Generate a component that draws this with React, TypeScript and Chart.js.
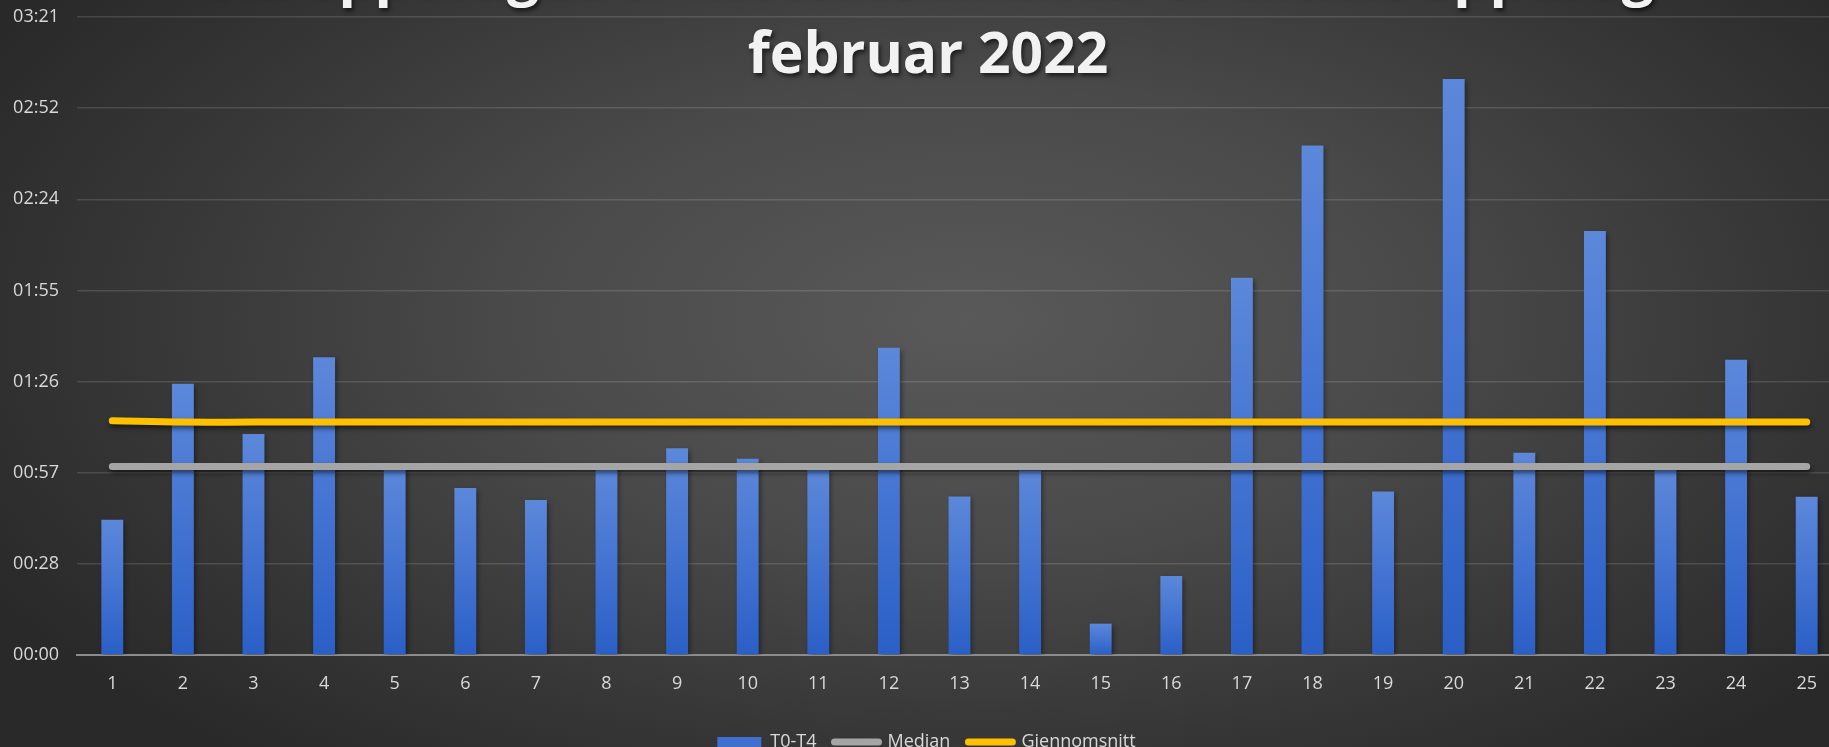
import React, { useEffect, useRef } from "react";
import { Chart, registerables } from "chart.js";

Chart.register(...registerables);

const categories = ["1","2","3","4","5","6","7","8","9","10","11","12","13","14","15","16","17","18","19","20","21","22","23","24","25"];

// seconds
const t0t4Seconds = [42.7, 85.7, 69.8, 94.1, 59.4, 52.8, 49.0, 59.6, 65.3, 62.0, 59.2, 97.1, 50.1, 58.3, 9.9, 25.0, 119.2, 161.0, 51.7, 182.0, 63.9, 134.0, 59.0, 93.3, 50.0];
const medianSeconds = [59.6, 59.6, 59.6, 59.6, 59.6, 59.6, 59.6, 59.6, 59.6, 59.6, 59.6, 59.6, 59.6, 59.6, 59.6, 59.6, 59.6, 59.6, 59.6, 59.6, 59.6, 59.6, 59.6, 59.6, 59.6];
const averageSeconds = [74.0, 73.6, 73.6, 73.6, 73.6, 73.6, 73.6, 73.6, 73.6, 73.6, 73.6, 73.6, 73.6, 73.6, 73.6, 73.6, 73.6, 73.6, 73.6, 73.6, 73.6, 73.6, 73.6, 73.6, 73.6];

const yTickLabels = ["00:00", "00:28", "00:57", "01:26", "01:55", "02:24", "02:52", "03:21"];
const yTickStepSeconds = 28.8;

const seriesNames = ["T0-T4", "Median", "Gjennomsnitt"];
const titleLines = ["Tid oppdraget er mottatt til bilen er tildelt oppdrag", "februar 2022"];

const FONT = "'Open Sans', 'DejaVu Sans', sans-serif";
const TEXT = "#d9d9d9";
const CANVAS_W = 1859;
const CANVAS_H = 761;

const shadowPlugin = {
  id: "shadowPlugin",
  beforeDatasetDraw(chart: any, args: any) {
    const ctx = chart.ctx;
    ctx.save();
    if (args.index === 0) {
      ctx.shadowColor = "rgba(0,0,0,0.45)";
      ctx.shadowBlur = 5;
      ctx.shadowOffsetX = 2;
      ctx.shadowOffsetY = 2;
    } else {
      ctx.shadowColor = "rgba(0,0,0,0.55)";
      ctx.shadowBlur = 5;
      ctx.shadowOffsetX = 1;
      ctx.shadowOffsetY = 3;
    }
  },
  afterDatasetDraw(chart: any) {
    chart.ctx.restore();
  },
};

const titlePlugin = {
  id: "overlayTitle",
  afterDraw(chart: any) {
    const ctx = chart.ctx;
    ctx.save();
    ctx.font = `bold 57px ${FONT}`;
    ctx.fillStyle = "#f2f2f2";
    ctx.textAlign = "center";
    ctx.textBaseline = "alphabetic";
    ctx.shadowColor = "rgba(0,0,0,0.6)";
    ctx.shadowBlur = 4;
    ctx.shadowOffsetX = 2;
    ctx.shadowOffsetY = 3;
    const cx = 928;
    const baselines = [-6, 73];
    titleLines.forEach((line, i) => ctx.fillText(line, cx, baselines[i]));
    ctx.restore();
  },
};

function barGradient(context: any) {
  const chart = context.chart;
  const area = chart.chartArea;
  if (!area || context.dataIndex === undefined) return "#4472c4";
  const v = context.dataset.data[context.dataIndex];
  const yTop = chart.scales.y.getPixelForValue(v);
  const yBottom = chart.scales.y.getPixelForValue(0);
  const g = chart.ctx.createLinearGradient(0, yTop, 0, yBottom);
  g.addColorStop(0, "#5c88da");
  g.addColorStop(0.5, "#4474d2");
  g.addColorStop(1, "#2a5fc6");
  return g;
}

export default function App() {
  const canvasRef = useRef<HTMLCanvasElement | null>(null);

  useEffect(() => {
    document.body.style.overflow = "hidden";
    const canvas = canvasRef.current;
    if (!canvas) return;
    const chart = new Chart(canvas, {
      type: "bar",
      data: {
        labels: categories,
        datasets: [
          {
            type: "bar",
            label: seriesNames[0],
            data: t0t4Seconds,
            backgroundColor: barGradient as any,
            categoryPercentage: 1,
            barPercentage: 0.31,
            order: 3,
          },
          {
            type: "line",
            label: seriesNames[1],
            data: medianSeconds,
            borderColor: "#a5a5a5",
            backgroundColor: "#a5a5a5",
            borderWidth: 7,
            borderCapStyle: "round",
            pointRadius: 0,
            tension: 0,
            order: 2,
          },
          {
            type: "line",
            label: seriesNames[2],
            data: averageSeconds,
            borderColor: "#ffc000",
            backgroundColor: "#ffc000",
            borderWidth: 7,
            borderCapStyle: "round",
            pointRadius: 0,
            tension: 0.4,
            order: 1,
          },
        ],
      } as any,
      options: {
        animation: false,
        responsive: false,
        devicePixelRatio: 1,
        layout: { autoPadding: false, padding: { left: 11, right: 17, top: 17, bottom: 0 } },
        scales: {
          x: {
            offset: true,
            grid: { display: false, drawTicks: false },
            border: { display: true, color: "#8c8c8c", width: 2 },
            ticks: { color: TEXT, font: { family: FONT, size: 18 }, padding: 18, maxRotation: 0, autoSkip: false },
            afterFit: (s: any) => {
              s.height = 60;
              s.paddingLeft = 0;
              s.paddingRight = 0;
            },
          },
          y: {
            min: 0,
            max: yTickStepSeconds * (yTickLabels.length - 1),
            grid: { color: "rgba(255,255,255,0.13)", lineWidth: 1.5, drawTicks: false },
            border: { display: false },
            afterBuildTicks: (s: any) => {
              s.ticks = yTickLabels.map((_, i) => ({ value: i * yTickStepSeconds }));
            },
            ticks: {
              color: TEXT,
              font: { family: FONT, size: 18 },
              padding: 18,
              callback: (_v: any, i: number) => yTickLabels[i],
            },
            afterFit: (s: any) => {
              s.width = 66;
              s.paddingTop = 0;
              s.paddingBottom = 0;
            },
          },
        },
        plugins: {
          title: { display: false },
          tooltip: { enabled: false },
          legend: {
            display: true,
            position: "bottom",
            labels: {
              color: TEXT,
              font: { family: FONT, size: 18 },
              usePointStyle: true,
              pointStyleWidth: 44,
              boxHeight: 10,
              padding: 18,
              generateLabels: (c: any) =>
                c.data.datasets.map((ds: any, i: number) => {
                  if (i === 0) {
                    return {
                      text: ds.label,
                      fillStyle: "#3f6fcf",
                      strokeStyle: "#3f6fcf",
                      lineWidth: 0,
                      pointStyle: "rect",
                      fontColor: TEXT,
                      datasetIndex: i,
                      hidden: false,
                    };
                  }
                  return {
                    text: ds.label,
                    fillStyle: ds.borderColor,
                    strokeStyle: ds.borderColor,
                    lineWidth: 7,
                    lineCap: "round",
                    pointStyle: "line",
                    fontColor: TEXT,
                    datasetIndex: i,
                    hidden: false,
                  };
                }),
            },
          },
        },
      } as any,
      plugins: [shadowPlugin, titlePlugin],
    });
    return () => chart.destroy();
  }, []);

  return (
    <div
      style={{
        position: "fixed",
        left: 0,
        top: 0,
        width: CANVAS_W,
        height: CANVAS_H,
        background:
          "radial-gradient(ellipse 60% 75% at 52% 42%, #595959 0%, #4a4a4a 40%, #363636 75%, #292929 100%)",
      }}
    >
      <canvas ref={canvasRef} width={CANVAS_W} height={CANVAS_H} style={{ display: "block" }} />
    </div>
  );
}
